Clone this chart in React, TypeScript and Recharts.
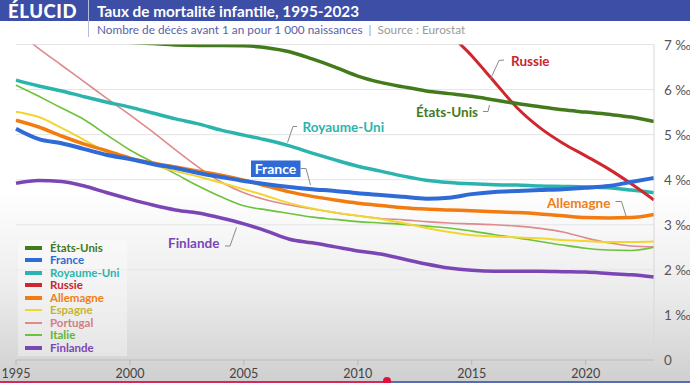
import React from 'react';
import { LineChart, Line, XAxis, YAxis, CartesianGrid } from 'recharts';

const years = [1995, 1996, 1997, 1998, 1999, 2000, 2001, 2002, 2003, 2004, 2005, 2006, 2007, 2008, 2009, 2010, 2011, 2012, 2013, 2014, 2015, 2016, 2017, 2018, 2019, 2020, 2021, 2022, 2023];

const etatsUnis = [7.6, 7.45, 7.3, 7.2, 7.1, 7.05, 7.02, 6.99, 6.98, 6.98, 6.97, 6.93, 6.84, 6.68, 6.5, 6.3, 6.16, 6.06, 5.97, 5.91, 5.85, 5.77, 5.69, 5.62, 5.55, 5.5, 5.45, 5.39, 5.29];
const france = [5.13, 4.9, 4.81, 4.68, 4.55, 4.46, 4.35, 4.26, 4.15, 4.06, 3.97, 3.9, 3.84, 3.79, 3.75, 3.7, 3.66, 3.62, 3.58, 3.6, 3.68, 3.73, 3.75, 3.77, 3.79, 3.82, 3.86, 3.95, 4.04];
const royaumeUni = [6.21, 6.08, 5.97, 5.84, 5.72, 5.61, 5.48, 5.35, 5.24, 5.1, 4.99, 4.88, 4.75, 4.59, 4.44, 4.3, 4.19, 4.08, 3.99, 3.94, 3.91, 3.89, 3.88, 3.86, 3.85, 3.84, 3.82, 3.77, 3.71];
const russie = [null, null, null, null, null, null, null, null, null, null, null, null, null, null, null, null, null, 8.6, 8.2, 7.3, 6.75, 6.17, 5.59, 5.15, 4.81, 4.53, 4.24, 3.91, 3.55];
const allemagne = [5.32, 5.17, 4.97, 4.79, 4.64, 4.48, 4.37, 4.28, 4.19, 4.1, 3.99, 3.86, 3.73, 3.63, 3.55, 3.48, 3.43, 3.38, 3.35, 3.33, 3.31, 3.29, 3.27, 3.24, 3.2, 3.16, 3.15, 3.16, 3.23];
const espagne = [5.51, 5.39, 5.15, 4.88, 4.61, 4.46, 4.33, 4.19, 4.07, 3.93, 3.79, 3.64, 3.48, 3.36, 3.27, 3.2, 3.13, 3.04, 2.93, 2.84, 2.77, 2.74, 2.72, 2.7, 2.66, 2.64, 2.62, 2.62, 2.63];
const portugal = [7.3, 6.91, 6.54, 6.17, 5.8, 5.44, 5.06, 4.66, 4.28, 3.95, 3.71, 3.55, 3.44, 3.35, 3.27, 3.2, 3.14, 3.11, 3.07, 3.04, 3.02, 3.0, 2.97, 2.92, 2.84, 2.71, 2.6, 2.53, 2.51];
const italie = [6.1, 5.85, 5.59, 5.33, 4.99, 4.66, 4.39, 4.13, 3.86, 3.62, 3.42, 3.33, 3.25, 3.17, 3.12, 3.07, 3.04, 3.01, 2.97, 2.93, 2.86, 2.78, 2.71, 2.63, 2.55, 2.48, 2.44, 2.43, 2.5];
const finlande = [3.92, 3.98, 3.96, 3.86, 3.71, 3.57, 3.44, 3.33, 3.26, 3.15, 3.02, 2.86, 2.68, 2.6, 2.51, 2.42, 2.35, 2.24, 2.13, 2.04, 1.99, 1.97, 1.97, 1.97, 1.96, 1.95, 1.92, 1.89, 1.84];

const xTicks = [1995, 2000, 2005, 2010, 2015, 2020];
const yTicks = [0, 1, 2, 3, 4, 5, 6, 7];

type S = { key: string; name: string; values: (number | null)[]; color: string; text: string; width: number };

const series: S[] = [
  { key: 'us', name: 'États-Unis', values: etatsUnis, color: '#437a1c', text: '#437a1c', width: 3.5 },
  { key: 'fr', name: 'France', values: france, color: '#2e6bd6', text: '#2e6bd6', width: 4 },
  { key: 'uk', name: 'Royaume-Uni', values: royaumeUni, color: '#2bb4ae', text: '#2bb4ae', width: 3.5 },
  { key: 'ru', name: 'Russie', values: russie, color: '#d0262e', text: '#c8262e', width: 3 },
  { key: 'de', name: 'Allemagne', values: allemagne, color: '#f27c10', text: '#ef7f17', width: 3.5 },
  { key: 'es', name: 'Espagne', values: espagne, color: '#f1d632', text: '#c9b330', width: 2 },
  { key: 'pt', name: 'Portugal', values: portugal, color: '#df8a8c', text: '#d47d82', width: 1.6 },
  { key: 'it', name: 'Italie', values: italie, color: '#6cc23a', text: '#62b535', width: 1.6 },
  { key: 'fi', name: 'Finlande', values: finlande, color: '#7c45b6', text: '#7c45b6', width: 3.5 },
];

const drawOrder = ['pt', 'it', 'es', 'fi', 'de', 'uk', 'ru', 'us', 'fr'];

const data = years.map((year, i) => {
  const row: Record<string, number | null> = { year };
  series.forEach((s) => {
    row[s.key] = s.values[i];
  });
  return row;
});

const FONT = 'Lato, "Open Sans", sans-serif';

const YTick = (props: any) => {
  const { y, payload } = props;
  const v = payload.value;
  return (
    <text x={664} y={y} dy={5} fill="#555" fontSize={13.5} fontFamily={FONT} textAnchor="start">
      {v === 0 ? '0' : `${v} ‰`}
    </text>
  );
};

const XTick = (props: any) => {
  const { x, y, payload } = props;
  return (
    <text x={x} y={y} dy={11} fill="#444" fontSize={12.5} fontFamily={FONT} textAnchor="middle">
      {payload.value}
    </text>
  );
};

const labels = [
  { text: 'Russie', x: 511, y: 61, color: '#c8262e', lead: '504,60 499,60.5 490.5,79' },
  { text: 'États-Unis', x: 416, y: 112, color: '#437a1c', lead: '483,111.5 488,111.5 489.5,105' },
  { text: 'Royaume-Uni', x: 302.5, y: 127, color: '#2bb4ae', lead: '297,126.5 293,126.5 287.5,142.5' },
  { text: 'Allemagne', x: 547, y: 203.5, color: '#ef7f17', lead: '615.5,201.5 621.5,201.5 626,216' },
  { text: 'Finlande', x: 168, y: 243.5, color: '#7c45b6', lead: '225,246 230,246 236.5,227.5' },
];

export default function App() {
  const legendOrder = ['us', 'fr', 'uk', 'ru', 'de', 'es', 'pt', 'it', 'fi'];
  return (
    <div
      style={{
        position: 'absolute',
        left: 0,
        top: 0,
        width: 690,
        height: 383,
        overflow: 'hidden',
        fontFamily: FONT,
        background: 'linear-gradient(to bottom, #ffffff 0px, #ffffff 190px, #ececec 290px, #cfcfcf 383px)',
      }}
    >
      {/* header */}
      <div style={{ position: 'absolute', left: 0, top: 0, width: 690, height: 21, background: '#3c4ea6' }} />
      <div
        style={{
          position: 'absolute',
          left: 8,
          top: 0,
          color: '#fff',
          fontWeight: 900,
          fontSize: 18.5,
          letterSpacing: 0.6,
          lineHeight: '23px',
          whiteSpace: 'nowrap',
        }}
      >
        ÉLUCID
      </div>
      <div style={{ position: 'absolute', left: 87.5, top: 0, width: 1, height: 37, background: '#b8bcd8' }} />
      <div
        style={{
          position: 'absolute',
          left: 97,
          top: 0.5,
          color: '#fff',
          fontWeight: 700,
          fontSize: 15.3,
          lineHeight: '20px',
          whiteSpace: 'nowrap',
        }}
      >
        Taux de mortalité infantile, 1995-2023
      </div>
      <div
        style={{
          position: 'absolute',
          left: 97,
          top: 22,
          color: '#5a62a6',
          fontSize: 11.8,
          lineHeight: '16px',
          whiteSpace: 'pre',
        }}
      >
        Nombre de décès avant 1 an pour 1 000 naissances
        <span style={{ color: '#9a9a9a' }}>{'  |  Source : Eurostat'}</span>
      </div>

      {/* chart */}
      <div style={{ position: 'absolute', left: 0, top: 0 }}>
        <LineChart width={690} height={383} data={data} margin={{ top: 44.5, right: 0, bottom: 0, left: 16 }}>
          <CartesianGrid horizontal={true} vertical={false} stroke="#e4e4e4" strokeWidth={1} />
          <XAxis
            dataKey="year"
            type="number"
            domain={[1995, 2023]}
            ticks={xTicks}
            height={23}
            axisLine={{ stroke: '#b5b5b5' }}
            tickLine={{ stroke: '#b5b5b5' }}
            tickSize={5}
            tick={<XTick />}
            interval={0}
          />
          <YAxis
            orientation="right"
            type="number"
            domain={[0, 7]}
            ticks={yTicks}
            allowDataOverflow={true}
            width={36}
            axisLine={{ stroke: '#d8d8d8' }}
            tickLine={false}
            tick={<YTick />}
            interval={0}
          />
          {drawOrder.map((k) => {
            const s = series.find((q) => q.key === k)!;
            return (
              <Line
                key={s.key}
                dataKey={s.key}
                name={s.name}
                type="monotone"
                stroke={s.color}
                strokeWidth={s.width}
                dot={false}
                activeDot={false}
                connectNulls={false}
                isAnimationActive={false}
              />
            );
          })}
        </LineChart>
      </div>

      {/* annotations */}
      <svg width={690} height={383} style={{ position: 'absolute', left: 0, top: 0, pointerEvents: 'none' }}>
        {labels.map((l) => (
          <g key={l.text}>
            <polyline points={l.lead} fill="none" stroke="#8a8a8a" strokeWidth={1} />
            <text x={l.x} y={l.y} dy={4.5} fill={l.color} fontSize={13.5} fontWeight={700} fontFamily={FONT}>
              {l.text}
            </text>
          </g>
        ))}
        <polyline points="301,168.5 306,168.5 310.5,185" fill="none" stroke="#8a8a8a" strokeWidth={1} />
        <rect x={251} y={160.5} width={49.5} height={16.5} fill="#2e6bd6" />
        <text x={275.5} y={169} dy={5} textAnchor="middle" fill="#fff" fontSize={14} fontWeight={700} fontFamily={FONT}>
          France
        </text>
        {/* progress bar artefact */}
        <rect x={0} y={381} width={387} height={2} fill="#d42a5a" />
        <rect x={387} y={381} width={303} height={2} fill="#5a6bb0" />
        <circle cx={387} cy={381} r={4} fill="#e0103a" />
      </svg>

      {/* legend */}
      <div
        style={{
          position: 'absolute',
          left: 18,
          top: 240,
          width: 109,
          height: 116,
          background: 'rgba(255,255,255,0.35)',
        }}
      />
      {legendOrder.map((k, i) => {
        const s = series.find((q) => q.key === k)!;
        const cy = 248 + i * 12.45;
        return (
          <div key={k}>
            <div
              style={{
                position: 'absolute',
                left: 25,
                top: cy - (s.width > 2 ? 2 : 1),
                width: 17,
                height: s.width > 2 ? 4 : 2,
                background: s.color,
              }}
            />
            <div
              style={{
                position: 'absolute',
                left: 50,
                top: cy - 8,
                height: 16,
                lineHeight: '16px',
                fontSize: 11.5,
                fontWeight: 700,
                color: s.text,
                whiteSpace: 'nowrap',
              }}
            >
              {s.name}
            </div>
          </div>
        );
      })}
    </div>
  );
}
